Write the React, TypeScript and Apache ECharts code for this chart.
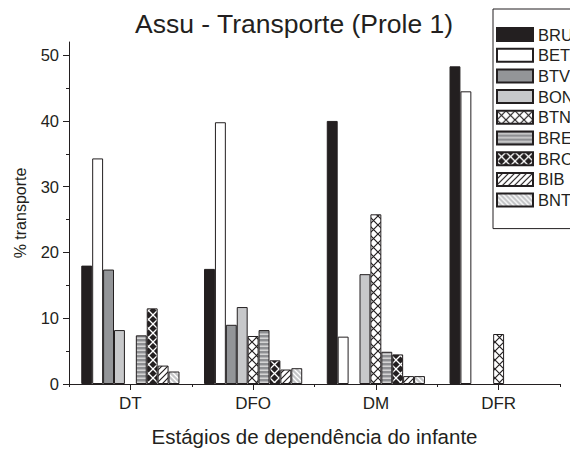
import React, { useEffect, useRef } from "react";
import * as echarts from "echarts";

const categories = ["DT", "DFO", "DM", "DFR"];
const seriesNames = ["BRU", "BET", "BTV", "BON", "BTN", "BRE", "BRO", "BIB", "BNT"];
const BRU = [18.0, 17.5, 40.0, 48.3];
const BET = [34.3, 39.8, 7.2, 44.5];
const BTV = [17.4, 9.0, 0, 0];
const BON = [8.2, 11.7, 16.7, 0];
const BTN = [0, 7.3, 25.8, 7.6];
const BRE = [7.4, 8.2, 4.9, 0];
const BRO = [11.5, 3.6, 4.5, 0];
const BIB = [2.8, 2.2, 1.2, 0];
const BNT = [1.9, 2.4, 1.2, 0];
const seriesValues = [BRU, BET, BTV, BON, BTN, BRE, BRO, BIB, BNT];
const yTickLabels = [0, 10, 20, 30, 40, 50];
const yMinorTicks = [5, 15, 25, 35, 45];

const INK = "#231f20";
const FONT = "Arial";

function tile(w: number, h: number, body: string) {
  const svg = `<svg xmlns="http://www.w3.org/2000/svg" width="${w}" height="${h}">${body}</svg>`;
  return {
    image: "data:image/svg+xml;charset=utf-8," + encodeURIComponent(svg),
    repeat: "repeat",
    imageWidth: w,
    imageHeight: h,
  };
}

function fills(): any[] {
  return [
    INK,
    "#ffffff",
    "#939598",
    "#c7c8ca",
    tile(9, 9, `<rect width="9" height="9" fill="#ffffff"/><path d="M0,0 L9,9 M9,0 L0,9" stroke="${INK}" stroke-width="1.2" fill="none"/>`),
    tile(4, 4, `<rect width="4" height="4" fill="#8e8f92"/><rect y="1.5" width="4" height="1.4" fill="#dcdcdc"/>`),
    tile(9, 9, `<rect width="9" height="9" fill="${INK}"/><path d="M0,0 L9,9 M9,0 L0,9" stroke="#ffffff" stroke-width="1.3" fill="none"/>`),
    tile(6, 6, `<rect width="6" height="6" fill="#ffffff"/><path d="M0,6 L6,0 M-1,1 L1,-1 M5,7 L7,5" stroke="${INK}" stroke-width="1.2" fill="none"/>`),
    tile(5, 5, `<rect width="5" height="5" fill="#c4c5c7"/><path d="M0,0 L5,5 M4,-1 L6,1 M-1,4 L1,6" stroke="#ffffff" stroke-width="1.3" fill="none"/>`),
  ];
}

export default function App() {
  const ref = useRef<HTMLDivElement>(null);
  useEffect(() => {
    document.body.style.margin = "0";
    if (!ref.current) return;
    const chart = echarts.init(ref.current, undefined, { renderer: "svg" });
    const f = fills();
    const option: any = {
      animation: false,
      backgroundColor: "#ffffff",
      textStyle: { fontFamily: FONT, color: INK },
      title: {
        text: "Assu - Transporte (Prole 1)",
        left: 130,
        top: 5,
        textStyle: { fontFamily: FONT, fontSize: 26.5, fontWeight: "normal", color: INK },
      },
      legend: {
        orient: "vertical",
        left: 493,
        top: 9,
        padding: [17, 40, 20, 3],
        itemGap: 3.7,
        itemWidth: 36,
        itemHeight: 13,
        borderColor: INK,
        borderWidth: 1,
        backgroundColor: "#ffffff",
        icon: "rect",
        data: seriesNames,
        textStyle: { fontFamily: FONT, fontSize: 16.5, color: INK },
      },
      grid: { left: 69, right: 10, top: 42, bottom: 64.3, containLabel: false },
      xAxis: [
        {
          type: "category",
          data: categories,
          position: "bottom",
          axisLine: { show: true, lineStyle: { color: INK, width: 1 } },
          axisTick: { show: true, alignWithLabel: true, length: 6, lineStyle: { color: INK } },
          axisLabel: { fontFamily: FONT, fontSize: 17, color: INK, margin: 11 },
          name: "Estágios de dependência do infante",
          nameLocation: "middle",
          nameGap: 42,
          nameTextStyle: { fontFamily: FONT, fontSize: 20.5, color: INK },
        },
        {
          type: "category",
          data: categories,
          position: "bottom",
          axisLine: { show: false },
          axisTick: { show: true, alignWithLabel: false, length: 3, lineStyle: { color: INK } },
          axisLabel: { show: false },
        },
      ],
      yAxis: [
        {
          type: "value",
          min: 0,
          max: 52,
          interval: 10,
          axisLine: { show: true, lineStyle: { color: INK, width: 1 } },
          axisTick: { show: true, length: 6, customValues: yTickLabels, lineStyle: { color: INK } },
          axisLabel: { fontFamily: FONT, fontSize: 16.5, color: INK, margin: 10, customValues: yTickLabels },
          splitLine: { show: false },
          name: "% transporte",
          nameLocation: "middle",
          nameGap: 41,
          nameTextStyle: { fontFamily: FONT, fontSize: 16, color: INK },
        },
        {
          type: "value",
          min: 0,
          max: 52,
          position: "left",
          axisLine: { show: false },
          axisTick: { show: true, length: 3, customValues: yMinorTicks, lineStyle: { color: INK } },
          axisLabel: { show: false },
          splitLine: { show: false },
        },
      ],
      series: seriesNames.map((name, i) => ({
        name,
        type: "bar",
        xAxisIndex: 0,
        yAxisIndex: 0,
        barGap: "0%",
        barCategoryGap: "20%",
        data: seriesValues[i].map((v) => (v === 0 ? "-" : v)),
        itemStyle: { color: f[i], borderColor: INK, borderWidth: 1 },
        emphasis: { disabled: true },
      })),
    };
    chart.setOption(option);
    return () => chart.dispose();
  }, []);
  return <div ref={ref} style={{ width: 570, height: 452 }} />;
}
